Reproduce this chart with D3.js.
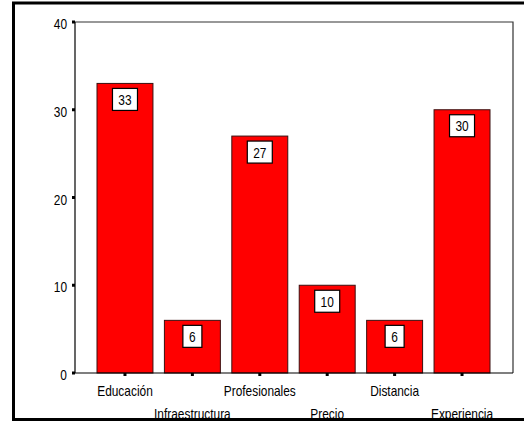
<!DOCTYPE html>
<html>
<head>
<meta charset="utf-8">
<script src="https://cdn.jsdelivr.net/npm/d3@7"></script>
<style>
  html, body { margin: 0; padding: 0; background: #fff; }
  svg { display: block; }
  text { font-family: "Liberation Sans", Arial, sans-serif; fill: #000; }
</style>
</head>
<body>
<svg id="chart" width="524" height="421"></svg>
<script>
// Frequency per category
const categories = ["Educación", "Infraestructura", "Profesionales", "Precio", "Distancia", "Experiencia"];
const counts = [33, 6, 27, 10, 6, 30];
const yTicks = [0, 10, 20, 30, 40];

const svg = d3.select("#chart");
const plot = { left: 75, right: 513, top: 22, bottom: 373 };
const narrow = 0.85; // horizontal squeeze applied to all text

const x = d3.scaleBand()
  .domain(categories)
  .range([97, 490])
  .paddingInner(0.17)
  .paddingOuter(0);

const y = d3.scaleLinear()
  .domain([0, 40])
  .range([plot.bottom, plot.top]);

// helper: condensed text anchored at (px, py)
function label(g, px, py, str, anchor, size) {
  return g.append("text")
    .attr("transform", `translate(${px},${py}) scale(${narrow},1)`)
    .attr("text-anchor", anchor)
    .style("font-size", size + "px")
    .text(str);
}

// plot frame: top and right edges
svg.append("path")
  .attr("d", `M${plot.left},${plot.top}H${plot.right}V${plot.bottom}`)
  .attr("fill", "none")
  .attr("stroke", "#333")
  .attr("stroke-width", 1.2);

// bars
svg.append("g").selectAll("rect")
  .data(categories)
  .join("rect")
  .attr("x", d => x(d))
  .attr("y", (d, i) => y(counts[i]))
  .attr("width", x.bandwidth())
  .attr("height", (d, i) => y(0) - y(counts[i]))
  .attr("fill", "#ff0000")
  .attr("stroke", "#3a1010")
  .attr("stroke-width", 1);

// value boxes
const boxes = svg.append("g");
categories.forEach((c, i) => {
  const txt = String(counts[i]);
  const w = txt.length > 1 ? 25 : 19;
  const cx = x(c) + x.bandwidth() / 2;
  const top = y(counts[i]) + 5;
  boxes.append("rect")
    .attr("x", cx - w / 2)
    .attr("y", top)
    .attr("width", w)
    .attr("height", 22)
    .attr("fill", "#fff")
    .attr("stroke", "#000")
    .attr("stroke-width", 1.2);
  label(boxes, cx, top + 16.5, txt, "middle", 14);
});

// y axis
const yAxis = svg.append("g");
yAxis.append("line")
  .attr("x1", plot.left).attr("x2", plot.left)
  .attr("y1", plot.top).attr("y2", plot.bottom)
  .attr("stroke", "#000").attr("stroke-width", 1.2);
yTicks.forEach(t => {
  yAxis.append("rect")
    .attr("x", plot.left - 3).attr("y", y(t) - 1.5)
    .attr("width", 3).attr("height", 3)
    .attr("fill", "#000");
  label(yAxis, 67, y(t) + 7, String(t), "end", 14);
});

// x axis
const xAxis = svg.append("g");
xAxis.append("line")
  .attr("x1", plot.left).attr("x2", plot.right)
  .attr("y1", plot.bottom).attr("y2", plot.bottom)
  .attr("stroke", "#000").attr("stroke-width", 1.2);
categories.forEach((c, i) => {
  const cx = x(c) + x.bandwidth() / 2;
  xAxis.append("rect")
    .attr("x", cx - 1.5).attr("y", plot.bottom)
    .attr("width", 3).attr("height", 3)
    .attr("fill", "#000");
  label(xAxis, cx, i % 2 === 0 ? 396 : 419, c, "middle", 14);
});

// outer border (drawn last, over the lower label row)
svg.append("rect")
  .attr("x", 13.5).attr("y", 3)
  .attr("width", 530).attr("height", 416.5)
  .attr("fill", "none")
  .attr("stroke", "#000")
  .attr("stroke-width", 3);
</script>
</body>
</html>
